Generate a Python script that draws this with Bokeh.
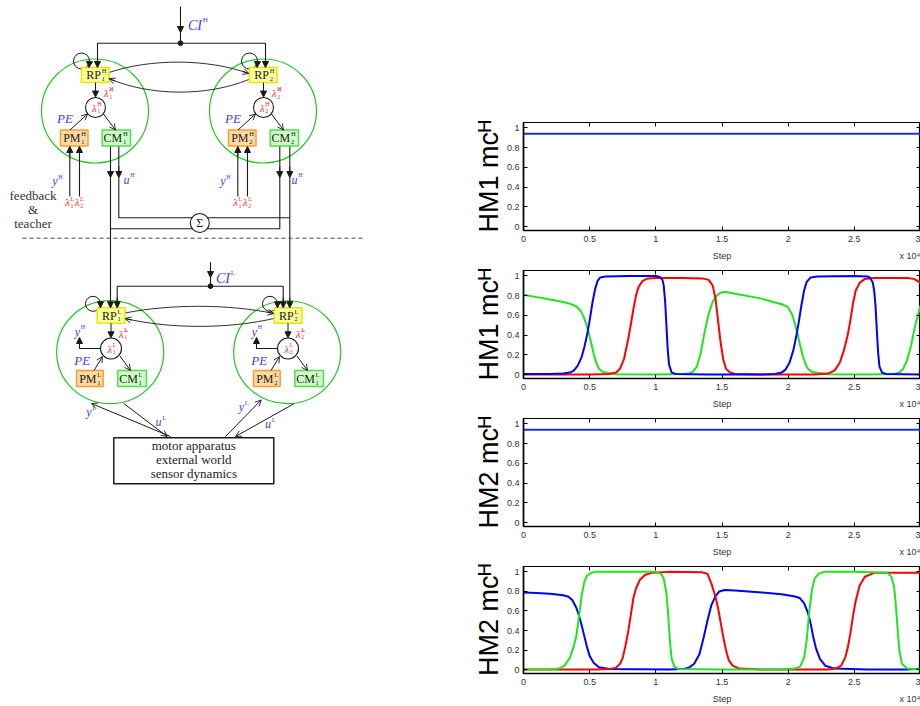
from bokeh.plotting import figure
from bokeh.layouts import row, column
from bokeh.models import (Range1d, LinearAxis, FixedTicker, NumeralTickFormatter,
                          Arrow, NormalHead, OpenHead, Spacer)
from bokeh.embed import file_html
from bokeh.resources import INLINE
from bokeh.core.properties import value

# ---------------- chart data ----------------
x_ticks = [0, 0.5, 1, 1.5, 2, 2.5, 3]
y_ticks = [0, 0.2, 0.4, 0.6, 0.8, 1]
x_label = "Step"
x_scale_label = "x 10⁴"
y_labels = ["HM1 mcᴴ", "HM1 mcᴴ", "HM2 mcᴴ", "HM2 mcᴴ"]

p1_blue_x = [0, 3]
p1_blue_y = [0.94, 0.94]

p2_green_x = [0, 0.1, 0.2, 0.3, 0.36, 0.40, 0.43, 0.45, 0.47, 0.49, 0.51, 0.53, 0.55, 0.57, 0.60, 0.7,
              1.0, 1.2, 1.25, 1.28, 1.31, 1.34, 1.37, 1.40, 1.43, 1.46, 1.49, 1.52, 1.6, 1.8, 1.9, 1.96,
              2.0, 2.03, 2.05, 2.07, 2.09, 2.11, 2.13, 2.15, 2.18, 2.3, 2.6, 2.8, 2.84, 2.87, 2.9, 2.93,
              2.96, 3.0]
p2_green_y = [0.81, 0.785, 0.76, 0.735, 0.715, 0.69, 0.65, 0.6, 0.53, 0.44, 0.33, 0.21, 0.12, 0.06,
              0.025, 0.003, 0, 0.005, 0.01, 0.03, 0.08, 0.22, 0.44, 0.62, 0.74, 0.8, 0.83, 0.84, 0.82,
              0.77, 0.73, 0.71, 0.68, 0.61, 0.52, 0.42, 0.3, 0.19, 0.11, 0.06, 0.025, 0.003, 0, 0.005,
              0.02, 0.06, 0.15, 0.3, 0.5, 0.7]
p2_blue_x = [0, 0.2, 0.3, 0.35, 0.38, 0.41, 0.44, 0.46, 0.48, 0.50, 0.52, 0.54, 0.56, 0.58, 0.62, 0.8,
             1.0, 1.03, 1.05, 1.06, 1.07, 1.08, 1.09, 1.10, 1.12, 1.15, 1.4, 1.8, 1.9, 1.95, 1.98, 2.01,
             2.04, 2.06, 2.08, 2.10, 2.12, 2.14, 2.17, 2.22, 2.5, 2.6, 2.62, 2.64, 2.65, 2.66, 2.67,
             2.68, 2.69, 2.71, 2.74, 3.0]
p2_blue_y = [0.005, 0.005, 0.01, 0.02, 0.04, 0.09, 0.18, 0.28, 0.40, 0.55, 0.72, 0.86, 0.95, 0.985,
             0.995, 1.0, 1.0, 0.99, 0.96, 0.9, 0.75, 0.5, 0.25, 0.1, 0.02, 0.005, 0, 0, 0.005, 0.02,
             0.05, 0.12, 0.25, 0.38, 0.53, 0.7, 0.85, 0.94, 0.985, 0.995, 1.0, 0.995, 0.98, 0.93, 0.85,
             0.7, 0.45, 0.22, 0.08, 0.02, 0.005, 0]
p2_red_x = [0, 0.5, 0.65, 0.7, 0.73, 0.76, 0.79, 0.81, 0.83, 0.85, 0.87, 0.9, 0.94, 1.0, 1.2, 1.35,
            1.4, 1.43, 1.45, 1.47, 1.49, 1.51, 1.53, 1.56, 1.6, 1.8, 2.2, 2.3, 2.35, 2.39, 2.42, 2.45,
            2.47, 2.49, 2.51, 2.54, 2.58, 2.65, 2.9, 2.95, 3.0]
p2_red_y = [0, 0, 0.005, 0.02, 0.06, 0.16, 0.35, 0.5, 0.66, 0.8, 0.89, 0.95, 0.975, 0.98, 0.98,
            0.975, 0.96, 0.9, 0.78, 0.55, 0.32, 0.15, 0.06, 0.02, 0.005, 0, 0, 0.01, 0.04, 0.12,
            0.24, 0.4, 0.55, 0.72, 0.85, 0.93, 0.97, 0.98, 0.98, 0.97, 0.93]

p3_blue_x = [0, 3]
p3_blue_y = [0.94, 0.94]

p4_blue_x = [0, 0.1, 0.2, 0.3, 0.34, 0.37, 0.40, 0.42, 0.44, 0.46, 0.48, 0.50, 0.53, 0.57, 0.65, 1.1,
             1.2, 1.25, 1.29, 1.33, 1.36, 1.39, 1.42, 1.45, 1.48, 1.52, 1.6, 1.8, 1.95, 2.02, 2.06,
             2.09, 2.12, 2.15, 2.17, 2.19, 2.21, 2.24, 2.28, 2.35, 2.6, 2.9, 3.0]
p4_blue_y = [0.79, 0.785, 0.775, 0.76, 0.745, 0.71, 0.63, 0.55, 0.45, 0.34, 0.23, 0.14, 0.07, 0.025,
             0.005, 0, 0.005, 0.02, 0.06, 0.16, 0.32, 0.5, 0.66, 0.75, 0.8, 0.815, 0.81, 0.79, 0.77,
             0.755, 0.745, 0.73, 0.68, 0.58, 0.47, 0.33, 0.22, 0.11, 0.04, 0.01, 0, 0, 0.01]
p4_green_x = [0, 0.2, 0.27, 0.31, 0.35, 0.38, 0.40, 0.42, 0.44, 0.46, 0.48, 0.51, 0.55, 0.7, 1.0,
              1.04, 1.06, 1.08, 1.09, 1.10, 1.11, 1.12, 1.14, 1.17, 1.5, 1.95, 2.05, 2.09, 2.12, 2.14,
              2.16, 2.18, 2.2, 2.23, 2.27, 2.5, 2.75, 2.78, 2.8, 2.81, 2.82, 2.83, 2.84, 2.86, 2.9, 3.0]
p4_green_y = [0, 0.003, 0.01, 0.04, 0.12, 0.24, 0.35, 0.55, 0.76, 0.9, 0.96, 0.99, 1.0, 1.0, 1.0,
              0.98, 0.93, 0.78, 0.62, 0.42, 0.24, 0.11, 0.03, 0.005, 0, 0, 0.01, 0.03, 0.12, 0.3,
              0.6, 0.82, 0.93, 0.98, 1.0, 1.0, 0.99, 0.95, 0.85, 0.72, 0.55, 0.36, 0.2, 0.06, 0.01, 0]
p4_red_x = [0, 0.55, 0.65, 0.7, 0.73, 0.75, 0.77, 0.79, 0.81, 0.83, 0.85, 0.88, 0.92, 0.97, 1.1, 1.35,
            1.39, 1.42, 1.45, 1.47, 1.49, 1.51, 1.53, 1.55, 1.58, 1.63, 1.8, 2.3, 2.36, 2.4, 2.43,
            2.45, 2.47, 2.49, 2.51, 2.54, 2.58, 2.65, 3.0]
p4_red_y = [0, 0, 0.005, 0.02, 0.06, 0.12, 0.24, 0.38, 0.55, 0.73, 0.83, 0.92, 0.97, 0.99, 1.0,
            0.995, 0.98, 0.88, 0.75, 0.63, 0.48, 0.33, 0.2, 0.1, 0.04, 0.01, 0, 0, 0.01, 0.04, 0.12,
            0.22, 0.37, 0.55, 0.7, 0.86, 0.95, 0.99, 0.99]

# ---------------- styles ----------------
INK = "#1a1a1a"
BLUE_T = "#3c3cff"
RED_T = "#ff2020"
GREEN_C = "#22c822"
SERIF = "Liberation Serif"
SANS = "Liberation Sans"
C_BLUE, C_RED, C_GREEN, C_CONST = "#0000ff", "#ff0000", "#1ee61e", "#1535c0"

# ---------------- block diagram (left) ----------------
d = figure(width=470, height=706, x_range=Range1d(0, 470), y_range=Range1d(706, 0),
           output_backend="svg", toolbar_location=None, min_border=0,
           x_axis_location=None, y_axis_location=None)
d.xgrid.visible = False
d.ygrid.visible = False
d.outline_line_color = None


def txt(x, y, s, color=INK, size=12, style="normal", align="center", font=SERIF):
    d.text(x=[x], y=[y], text=[s], text_color=color, text_font=value(font),
           text_font_size=value(f"{size}px"), text_font_style=style,
           text_align=align, text_baseline="middle")


def sym(x, y, main, sup, sub, color=INK, size=12, style="normal", ssize=6.5):
    txt(x, y, main, color, size, style, "right")
    if sup:
        txt(x + 0.8, y - size * 0.36, sup, color, ssize, "normal", "left")
    if sub:
        txt(x + 0.8, y + size * 0.32, sub, color, ssize, "normal", "left")


def seg(xs, ys, color=INK, width=1.1, dash="solid"):
    d.line(x=xs, y=ys, line_color=color, line_width=width, line_dash=dash)


def arrow(x0, y0, x1, y1, filled=True, color=INK, size=6, width=1.0):
    if filled:
        head = NormalHead(size=size, fill_color=color, line_color=color, line_width=1)
    else:
        head = OpenHead(size=size, line_color=color, line_width=0.9)
    d.add_layout(Arrow(end=head, x_start=x0, y_start=y0, x_end=x1, y_end=y1,
                       line_color=color, line_width=width))


def box(l, r, t, b, fill, line):
    d.quad(left=[l], right=[r], top=[t], bottom=[b], fill_color=fill, line_color=line, line_width=1.5)


YEL = ("#ffff9a", "#e6e600")
ORA = ("#ffd9a6", "#ff9c2a")
GRN = ("#cdffc5", "#55d855")

# green module circles
d.ellipse(x=[94.5, 262.5, 109.7, 286.7], y=[110.5, 110.5, 351.7, 351.7],
          width=[107, 107, 107, 107], height=[104, 104, 103, 103],
          fill_color=None, line_color=GREEN_C, line_width=1.2)

# self loops
d.circle(x=[81, 249], y=[60.5, 60.5], radius=8, fill_color=None, line_color=INK, line_width=1.0)
d.circle(x=[92.5, 269.5], y=[303.3, 303.3], radius=7.5, fill_color=None, line_color=INK, line_width=1.0)

# CI^H distribution
seg([180, 180], [6, 42.7])
seg([97, 97, 265, 265], [67, 42.7, 42.7, 67])
# CI^L distribution
seg([210, 210], [261.7, 285.7])
seg([116.7, 116.7, 282.7, 282.7], [307.3, 285.7, 285.7, 307.3])

# CM^H outputs / summation wiring
seg([110, 110], [145.5, 307.3])
seg([118.3, 118.3, 289.3], [145.5, 217.3, 217.3])
seg([289.3, 289.3], [145.5, 307.3])
seg([279.3, 279.3, 110], [145.5, 228.3, 228.3])

# PM^H inputs
for dx in (0, 168):
    for lx in (69.3, 79):
        seg([lx + dx, lx + dx], [196, 146])

# y^H feedback of lower level
for dx in (0, 177):
    seg([100 + dx, 79 + dx, 79 + dx], [348, 348, 343])

# dashed separator
seg([22, 365], [237.7, 237.7], color="#444444", width=1.0, dash="4 3")

# curved inter-module arrows
d.bezier(x0=[108.5, 248.3, 124.5, 273.3], y0=[72, 79, 312.5, 318],
         x1=[248.3, 108.5, 273.3, 124.5], y1=[73, 78, 313, 318],
         cx0=[150, 207, 170, 228], cy0=[58, 96, 303.5, 328.5],
         cx1=[207, 150, 228, 170], cy1=[58, 96, 303.5, 328.5],
         line_color=INK, line_width=0.9)

# boxes
for k, dx in enumerate((0, 168)):
    box(81 + dx, 108.5 + dx, 67, 82, *YEL)
    box(60 + dx, 87.5 + dx, 129.5, 145.5, *ORA)
    box(101.7 + dx, 130 + dx, 129.5, 145.5, *GRN)
for k, dx in enumerate((0, 177)):
    box(96.7 + dx, 124.5 + dx, 307.3, 322.7, *YEL)
    box(76 + dx, 102.7 + dx, 370, 386, *ORA)
    box(117.3 + dx, 146 + dx, 370, 386, *GRN)
box(113.3, 273.3, 437.3, 483.3, "white", INK)

# node circles, dots, sum
d.circle(x=[95, 263], y=[107, 107], radius=10, fill_color="white", line_color=INK, line_width=1.1)
d.circle(x=[110.5, 287.5], y=[348, 348], radius=10.5, fill_color="white", line_color=INK, line_width=1.1)
d.circle(x=[180, 210], y=[42.7, 285.7], radius=2.4, fill_color=INK, line_color=INK)
d.circle(x=[199.3], y=[222.5], radius=9.5, fill_color="white", line_color=INK, line_width=1.1)
txt(199.3, 222.5, "Σ", size=12)

# ----- texts, upper level -----
sym(201.5, 25, "CI", "H", None, BLUE_T, 14, "italic", 7)
for k, dx in enumerate((0, 168)):
    i = str(k + 1)
    sym(100.5 + dx, 74.8, "RP", "H", i)
    sym(80 + dx, 137.8, "PM", "H", i)
    sym(121.7 + dx, 137.8, "CM", "H", i)
    sym(96 + dx, 107.5, "λ", "H", i, RED_T, 10.5, "italic", 6)
    sym(108 + dx, 92.5, "λ\u0302", "H", i, RED_T, 11, "italic", 6)
    txt(64.5 + dx, 117.5, "PE", BLUE_T, 13, "italic")
    sym(57 + dx, 180.5, "y", "H", None, BLUE_T, 12, "italic", 6)
    sym(129 + dx, 179, "u", "H", None, BLUE_T, 12, "italic", 6)
    sym(69.3 + dx, 202, "λ", "L", "1", RED_T, 10.5, "italic", 6)
    sym(79 + dx, 202, "λ", "L", "2", RED_T, 10.5, "italic", 6)

for s, yy in (("feedback", 195), ("&", 209), ("teacher", 222.7)):
    txt(32.5, yy, s, "#333333", 13)

# ----- texts, lower level -----
sym(229.5, 277.7, "CI", "L", None, BLUE_T, 14, "italic", 7)
for k, dx in enumerate((0, 177)):
    j = str(k + 1)
    sym(116.2 + dx, 315, "RP", "L", j)
    sym(96 + dx, 378.2, "PM", "L", j)
    sym(137.3 + dx, 378.2, "CM", "L", "1")
    sym(111.5 + dx, 348.5, "λ", "L", j, RED_T, 10.5, "italic", 6)
    sym(123 + dx, 333, "λ\u0302", "L", j, RED_T, 11, "italic", 6)
    sym(79.5 + dx, 331, "y", "H", None, BLUE_T, 12, "italic", 6)
    txt(81.7 + dx, 359.5, "PE", BLUE_T, 13, "italic")

sym(91, 411, "y", "L", None, BLUE_T, 12, "italic", 6.5)
sym(161, 421, "u", "L", None, BLUE_T, 12, "italic", 6.5)
sym(243.5, 406.5, "y", "L", None, BLUE_T, 12, "italic", 6.5)
sym(270.5, 423.5, "u", "L", None, BLUE_T, 12, "italic", 6.5)
for s, yy in (("motor apparatus", 445), ("external world", 459), ("sensor dynamics", 472.7)):
    txt(193.3, yy, s, "#222222", 13)

# ----- arrowheads -----
arrow(180, 20, 180, 32)
arrow(97, 55, 97, 67)
arrow(265, 55, 265, 67)
arrow(210, 266, 210, 277)
arrow(116.7, 297, 116.7, 307.3)
arrow(282.7, 297, 282.7, 307.3)
arrow(110, 297, 110, 307.3)
arrow(289.3, 297, 289.3, 307.3)
for xx in (110, 118.3, 279.3, 289.3):
    arrow(xx, 166, xx, 177)
for k, dx in enumerate((0, 168)):
    arrow(89 + dx, 61, 88.5 + dx, 67)
    arrow(95 + dx, 82, 95 + dx, 96.5)
    arrow(69.5 + dx, 129.5, 87 + dx, 113.5, filled=False)
    arrow(103 + dx, 113.5, 115 + dx, 129.5, filled=False)
    for lx in (69.3, 79):
        arrow(lx + dx, 156, lx + dx, 146)
for k, dx in enumerate((0, 177)):
    arrow(100 + dx, 302, 100 + dx, 307.3)
    arrow(110.5 + dx, 322.7, 110.5 + dx, 337.3)
    arrow(79 + dx, 344, 79 + dx, 337)
    arrow(93.5 + dx, 370, 102 + dx, 356, filled=False)
    arrow(119.5 + dx, 355.5, 130 + dx, 370, filled=False)
arrow(242.1, 70.8, 248.3, 73, filled=False)
arrow(114.7, 80.7, 108.5, 78, filled=False)
arrow(266.5, 311.6, 273.3, 313, filled=False)
arrow(131.3, 319.6, 124.5, 318, filled=False)
arrow(170, 436, 91, 403, filled=False)
arrow(123.3, 403, 166.7, 436, filled=False)
arrow(225, 436, 260.7, 399.5, filled=False)
arrow(293.3, 403.3, 235, 436, filled=False)

# ---------------- time-series panels (right) ----------------
fmt = NumeralTickFormatter(format="0.[0]")
label_ticks = [1.5, 2.962]   # positions of the "Step" caption and the cut-off "x 10⁴" multiplier


def panel(ylab, series, height):
    p = figure(width=450, height=height, x_range=Range1d(0, 3), y_range=Range1d(-0.04, 1.055),
               output_backend="svg", toolbar_location=None,
               min_border_left=50, min_border_right=0, min_border_top=7, min_border_bottom=30)
    p.xgrid.visible = False
    p.ygrid.visible = False
    p.outline_line_color = "black"
    p.outline_line_width = 1.2
    for xs, ys, c in series:
        p.line(x=xs, y=ys, line_color=c, line_width=2)
    xa = p.xaxis[0]
    ya = p.yaxis[0]
    xa.ticker = FixedTicker(ticks=x_ticks)
    ya.ticker = FixedTicker(ticks=y_ticks)
    for ax in (xa, ya):
        ax.formatter = fmt
        ax.major_tick_in = 4
        ax.major_tick_out = 0
        ax.minor_tick_line_color = None
        ax.axis_line_width = 1.6
        ax.axis_line_color = "black"
        ax.major_tick_line_color = "black"
        ax.major_label_text_font = SANS
        ax.major_label_text_font_size = "9px"
        ax.major_label_text_color = "#333333"
        ax.axis_label_text_font = SANS
        ax.axis_label_text_font_style = "normal"
    xa.major_label_standoff = 5
    ya.major_label_standoff = 4
    ya.axis_label = ylab
    ya.axis_label_text_font_size = "27px"
    ya.axis_label_text_color = "black"
    ya.axis_label_standoff = 0
    # caption row under the x axis: "Step" and the cut-off "x 10⁴" multiplier
    cap = LinearAxis(ticker=FixedTicker(ticks=label_ticks),
                     major_label_overrides={label_ticks[0]: x_label, label_ticks[1]: x_scale_label},
                     axis_line_color=None, major_tick_line_color=None, minor_tick_line_color=None,
                     major_label_standoff=0, major_label_text_font=SANS,
                     major_label_text_font_size="9px", major_label_text_color="#333333")
    p.add_layout(cap, "below")
    # box ticks on top and right (no labels)
    for loc, tk in (("above", x_ticks), ("right", y_ticks)):
        ax = LinearAxis(ticker=FixedTicker(ticks=tk), major_label_text_font_size="1px",
                        major_label_text_color=None,
                        major_label_standoff=0, major_tick_in=4, major_tick_out=0,
                        minor_tick_line_color=None, axis_line_color="black", axis_line_width=1.0)
        p.add_layout(ax, loc)
    return p


p1 = panel(y_labels[0], [(p1_blue_x, p1_blue_y, C_CONST)], 148)
p2 = panel(y_labels[1], [(p2_green_x, p2_green_y, C_GREEN), (p2_red_x, p2_red_y, C_RED),
                         (p2_blue_x, p2_blue_y, C_BLUE)], 148)
p3 = panel(y_labels[2], [(p3_blue_x, p3_blue_y, C_CONST)], 148)
p4 = panel(y_labels[3], [(p4_blue_x, p4_blue_y, C_BLUE), (p4_red_x, p4_red_y, C_RED),
                         (p4_green_x, p4_green_y, C_GREEN)], 147)

right = column(Spacer(width=450, height=115), p1, p2, p3, p4)
layout = row(d, right)

open("out.html", "w").write(file_html(layout, INLINE))
